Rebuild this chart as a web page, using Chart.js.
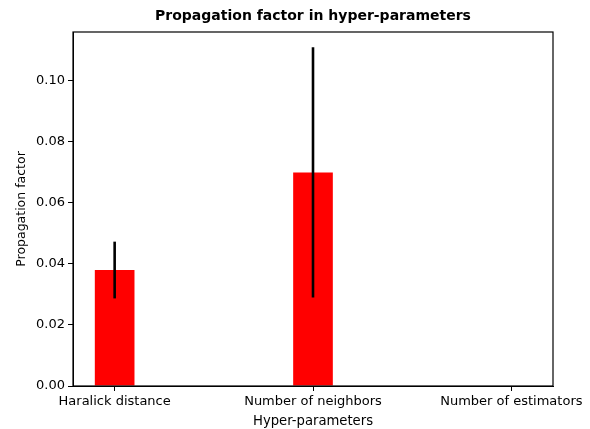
<!DOCTYPE html>
<html>
<head>
<meta charset="utf-8">
<script src="https://cdn.jsdelivr.net/npm/chart.js@4.4.1/dist/chart.umd.min.js"></script>
<style>
  html, body { margin: 0; padding: 0; background: #ffffff; }
  .wrap { width: 590px; height: 429px; }
</style>
</head>
<body>
<div class="wrap"><canvas id="barChart" width="590" height="429"></canvas></div>
<script>
'use strict'

const categories = ['Haralick distance', 'Number of neighbors', 'Number of estimators']
const factorValues = [0.038, 0.070, 0.0]
const factorErrors = [0.0093, 0.041, 0.0]
const yTicks = [0, 0.02, 0.04, 0.06, 0.08, 0.10]

const chartTitle = 'Propagation factor in hyper-parameters'
const fontFamily = '"DejaVu Sans", sans-serif'

// error bars drawn on top of the bars
const errorBarPlugin = {
    id: 'errorBars',
    afterDatasetsDraw: function(chart) {
        const {ctx, scales} = chart
        ctx.save()
        ctx.strokeStyle = '#000000'
        ctx.lineWidth = 2.6
        factorValues.forEach((v, i) => {
            const err = factorErrors[i]
            if (!err) return
            const x = scales.x.getPixelForValue(i)
            ctx.beginPath()
            ctx.moveTo(x, scales.y.getPixelForValue(v - err))
            ctx.lineTo(x, scales.y.getPixelForValue(v + err))
            ctx.stroke()
        })
        ctx.restore()
    }
}

// full box around the axes + title centred over the plot area (matplotlib style)
const framePlugin = {
    id: 'frame',
    afterDraw: function(chart) {
        const {ctx, chartArea} = chart
        ctx.save()
        ctx.strokeStyle = '#000000'
        ctx.lineWidth = 1.2
        ctx.strokeRect(chartArea.left, chartArea.top, chartArea.right - chartArea.left, chartArea.bottom - chartArea.top)

        ctx.fillStyle = '#000000'
        ctx.font = 'bold 14px ' + fontFamily
        ctx.textAlign = 'center'
        ctx.textBaseline = 'middle'
        ctx.fillText(chartTitle, (chartArea.left + chartArea.right) / 2, 16)
        ctx.restore()
    }
}

const canvas = document.getElementById('barChart')

new Chart(canvas, {
    type: 'bar',
    data: {
        datasets: [{
            label: 'Propagation factor',
            data: factorValues.map((v, i) => ({x: i, y: v})),
            backgroundColor: '#ff0000',
            borderWidth: 0,
            barPercentage: 0.2,
            categoryPercentage: 1.0
        }]
    },
    options: {
        responsive: false,
        animation: false,
        layout: {
            padding: {top: 32, right: 37, left: 0, bottom: 0}
        },
        plugins: {
            legend: {display: false},
            tooltip: {enabled: false},
            title: {display: false}
        },
        scales: {
            x: {
                type: 'linear',
                min: -0.21,
                max: 2.21,
                offset: false,
                afterBuildTicks: function(axis) {
                    axis.ticks = categories.map((c, i) => ({value: i}))
                },
                afterFit: function(axis) {
                    axis.height = 43
                },
                ticks: {
                    color: '#000000',
                    font: {family: fontFamily, size: 13},
                    padding: 3,
                    maxRotation: 0,
                    autoSkip: false,
                    callback: function(value) {
                        return categories[value]
                    }
                },
                grid: {
                    display: true,
                    offset: false,
                    drawOnChartArea: false,
                    drawTicks: true,
                    tickLength: 5,
                    color: '#000000'
                },
                border: {display: true, color: '#000000'},
                title: {
                    display: true,
                    text: 'Hyper-parameters',
                    color: '#000000',
                    font: {family: fontFamily, size: 13.2},
                    padding: 0
                }
            },
            y: {
                type: 'linear',
                min: 0,
                max: 0.116,
                afterBuildTicks: function(axis) {
                    axis.ticks = yTicks.map(v => ({value: v}))
                },
                afterFit: function(axis) {
                    axis.width = 73
                },
                ticks: {
                    color: '#000000',
                    font: {family: fontFamily, size: 13},
                    padding: 3,
                    callback: function(value) {
                        return value.toFixed(2)
                    }
                },
                grid: {
                    display: true,
                    drawOnChartArea: false,
                    drawTicks: true,
                    tickLength: 5,
                    color: '#000000'
                },
                border: {display: true, color: '#000000'},
                title: {
                    display: true,
                    text: 'Propagation factor',
                    color: '#000000',
                    font: {family: fontFamily, size: 12.5},
                    padding: {top: 14, bottom: 0}
                }
            }
        }
    },
    plugins: [errorBarPlugin, framePlugin]
})
</script>
</body>
</html>
